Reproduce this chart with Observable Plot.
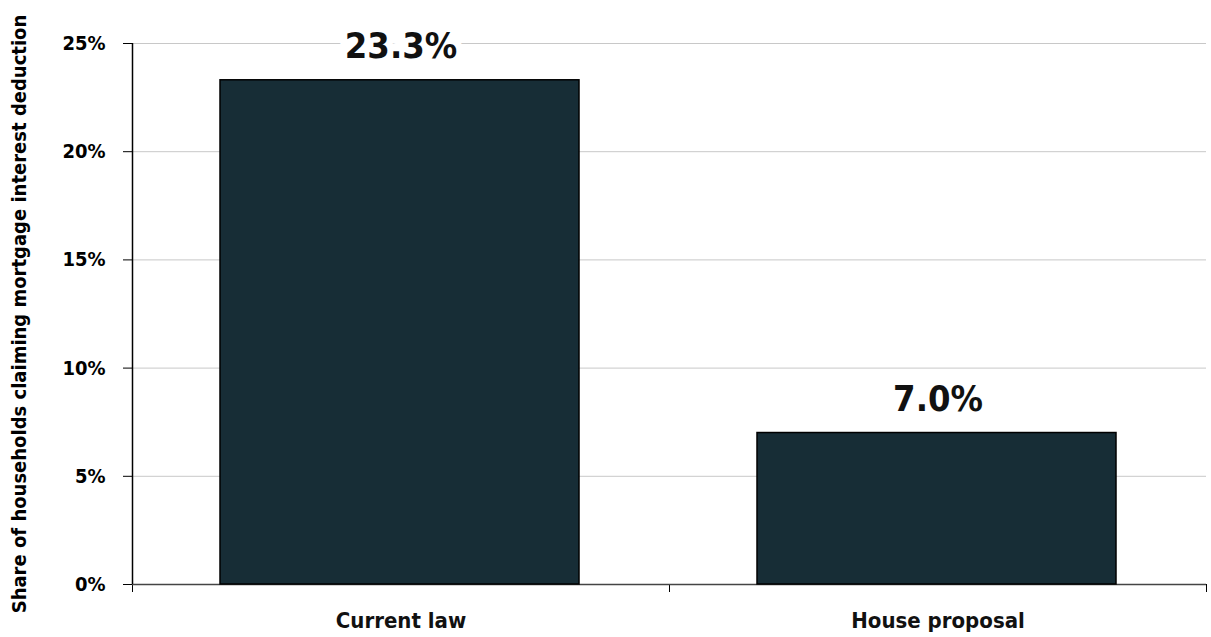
<!DOCTYPE html>
<html>
<head>
<meta charset="utf-8">
<script src="https://cdn.jsdelivr.net/npm/d3@7"></script>
<script src="https://cdn.jsdelivr.net/npm/@observablehq/plot@0.6"></script>
<style>
  html, body { margin: 0; padding: 0; background: #fff; }
  svg { display: block; }
  svg text { font-stretch: condensed; }
</style>
</head>
<body>
<div id="chart"></div>
<script>
const categories = ["Current law", "House proposal"];
const values = [23.3, 7.0];
const valueLabels = ["23.3%", "7.0%"];
const yTicks = [0, 5, 10, 15, 20, 25];
const yTickLabels = ["0%", "5%", "10%", "15%", "20%", "25%"];
const yLabel = "Share of households claiming mortgage interest deduction";

const data = categories.map((c, i) => ({category: c, index: i, value: values[i], label: valueLabels[i]}));
const font = "'DejaVu Sans', sans-serif";

const chart = Plot.plot({
  width: 1211,
  height: 637,
  marginLeft: 132,
  marginRight: 5,
  marginTop: 43,
  marginBottom: 53,
  style: {fontFamily: font, fontWeight: "bold", background: "#fff", color: "#000"},
  x: {domain: [0, categories.length], axis: null},
  y: {domain: [0, 25], axis: null},
  marks: [
    Plot.gridY(yTicks.slice(1), {stroke: "#c8c8c8", strokeOpacity: 1, strokeWidth: 1}),
    Plot.axisY(yTicks, {
      tickSize: 9, tickPadding: 18, fontSize: 20, fontWeight: "bold",
      tickFormat: (d) => yTickLabels[yTicks.indexOf(d)],
      label: yLabel, labelAnchor: "center", labelArrow: "none", labelOffset: 121
    }),
    Plot.axisX(d3.range(categories.length + 1), {tickSize: 8, tickFormat: () => "", stroke: "#000"}),
    Plot.ruleY([0], {stroke: "#444", strokeWidth: 1.5}),
    Plot.ruleX([0], {y1: 0, y2: 25, stroke: "#000", strokeWidth: 1.5}),
    Plot.rectY(data, {
      x1: (d) => d.index, x2: (d) => d.index + 1, y1: 0, y2: "value",
      insetLeft: 88, insetRight: 90,
      fill: "#172d36", stroke: "#000", strokeWidth: 1.5
    }),
    Plot.text(data, {
      x: (d) => d.index + 0.5, y: "value", text: "label", dy: -34,
      fontSize: 36, fontWeight: "bold", fill: "#111",
      stroke: "#fff", strokeWidth: 14, paintOrder: "stroke", strokeLinejoin: "miter"
    }),
    Plot.text(data, {
      x: (d) => d.index + 0.5, y: 0, text: "category", dy: 36,
      fontSize: 22, fontWeight: "bold", fill: "#111"
    })
  ]
});
document.getElementById("chart").appendChild(chart);
</script>
</body>
</html>
